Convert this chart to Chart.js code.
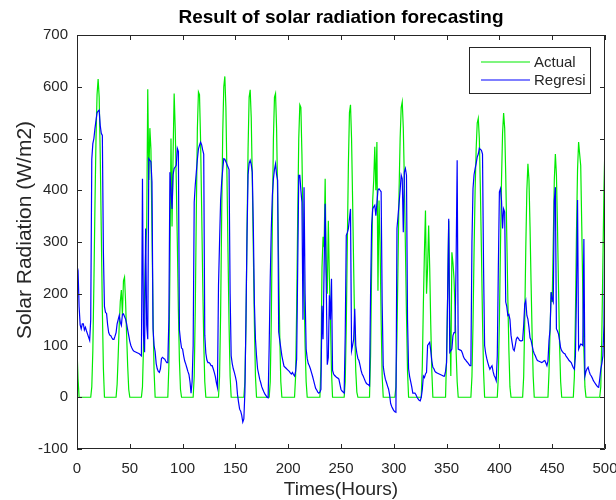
<!DOCTYPE html>
<html><head><meta charset="utf-8">
<script src="https://cdn.jsdelivr.net/npm/chart.js@4"></script>
<style>html,body{margin:0;padding:0;background:#fff;}#wrap{width:616px;height:500px;}</style>
</head><body><div id="wrap"><canvas id="c" width="616" height="500"></canvas></div>
<script>
const chartTitle = 'Result of solar radiation forecasting';
const xAxisTitle = 'Times(Hours)';
const yAxisTitle = 'Solar Radiation (W/m2)';
const seriesNames = ['Actual', 'Regresi'];
const xTickValues = [0, 50, 100, 150, 200, 250, 300, 350, 400, 450, 500];
const yTickValues = [-100, 0, 100, 200, 300, 400, 500, 600, 700];

// hourly values, hour = index (0..500)
const actual = [
93,35,0,0,0,0,0,0,0,0,0,0,0,0,20,90,220,370,500,585,615,580,470,320,
170,55,0,0,0,0,0,0,0,0,0,0,0,0,25,80,140,185,207,160,225,232,185,120,
60,15,0,0,0,0,0,0,0,0,0,0,0,0,20,100,200,280,330,595,420,520,480,320,
160,50,0,0,0,0,0,0,0,0,0,0,0,0,0,60,250,500,330,470,587,520,420,300,
170,70,15,0,0,0,0,0,0,0,0,0,0,0,0,40,170,360,520,590,585,500,370,230,
110,30,0,0,0,0,0,0,0,0,0,0,0,0,0,40,160,350,510,600,620,560,430,280,
140,40,0,0,0,0,0,0,0,0,0,0,0,0,0,30,140,320,480,580,594,540,420,280,
140,40,0,0,0,0,0,0,0,0,0,0,0,0,0,30,150,340,500,580,587,520,390,250,
120,30,0,0,0,0,0,0,0,0,0,0,0,0,0,40,170,350,500,565,560,470,340,210,
100,30,0,0,0,0,0,0,0,0,0,0,0,0,0,60,250,310,290,422,250,200,341,230,
150,50,0,0,0,0,0,0,0,0,0,0,0,0,30,140,300,450,550,565,500,380,250,130,
50,10,0,0,0,0,0,0,0,0,0,0,0,0,80,250,380,420,484,400,493,206,380,300,
150,40,0,0,0,0,0,0,0,0,0,0,0,0,20,120,260,400,500,560,571,520,420,290,
160,50,0,0,0,0,0,0,0,0,0,0,0,0,0,60,180,280,361,200,250,332,250,140,
50,0,0,0,0,0,0,0,0,0,0,0,0,0,80,200,341,150,41,280,260,230,170,90,
30,0,0,0,0,0,0,0,0,0,0,0,0,0,40,140,280,400,480,530,539,500,400,280,
150,50,0,0,0,0,0,0,0,0,0,0,0,0,0,40,150,290,420,510,549,520,430,310,
190,90,20,0,0,0,0,0,0,0,0,0,0,0,0,40,150,290,400,451,420,330,220,120,
40,0,0,0,0,0,0,0,0,0,0,0,0,0,0,50,130,203,184,300,420,470,430,330,
210,100,30,0,0,0,0,0,0,0,0,0,0,0,0,40,160,320,440,493,470,448,330,200,
90,20,0,0,0,0,0,0,0,0,0,0,0,0,0,0,20,120,260,400,493
];
const regresi = [
254,245,175,140,132,142,142,130,135,128,122,116,110,150,460,490,500,519,535,550,553,555,525,510,
506,280,175,164,162,140,125,120,119,115,112,112,118,125,142,150,158,145,139,160,161,156,151,142,
130,119,108,100,95,91,89,88,87,86,85,84,82,80,422,120,87,326,140,112,461,458,455,416,
132,100,88,65,55,50,48,55,75,77,75,74,70,67,67,150,435,400,364,430,442,445,448,481,
475,130,110,95,93,80,70,64,57,50,44,30,8,30,100,377,410,435,460,480,487,493,488,478,
470,120,85,72,67,67,65,61,61,55,48,40,28,19,216,300,380,416,440,461,460,455,450,445,
440,200,80,65,55,48,40,30,5,-10,-23,-27,-35,-48,-42,10,150,313,430,452,458,450,435,326,
180,112,80,55,45,35,28,20,15,10,6,3,0,-1,100,230,326,390,422,440,451,430,419,126,
110,95,80,70,60,58,56,54,52,50,47,45,48,44,41,50,74,250,429,429,400,377,150,406,
200,93,75,65,61,55,48,41,33,25,17,14,10,8,10,15,177,112,250,374,223,63,77,197,
150,229,52,45,42,40,38,37,35,25,15,12,10,8,120,313,318,326,345,364,90,100,112,171,
100,85,75,71,62,52,45,41,36,31,27,25,24,22,200,332,364,368,371,351,375,400,403,400,
397,180,60,45,35,29,22,16,5,-12,-18,-22,-26,-28,-29,326,350,375,400,429,422,319,435,442,
429,150,55,40,30,20,8,8,8,5,0,-3,-6,-7,0,15,41,38,45,48,100,103,106,90,
70,58,55,50,48,47,46,45,44,43,42,41,41,50,67,200,345,87,90,93,119,125,125,261,
458,93,92,91,90,85,78,74,72,69,67,64,61,61,300,403,430,442,452,464,470,481,479,477,
470,250,100,85,75,67,60,54,58,61,50,42,38,32,80,250,397,403,380,326,364,358,184,175,
158,160,150,120,106,93,90,100,112,116,114,110,109,109,110,139,180,187,158,151,135,115,110,100,
90,84,80,75,71,70,69,68,67,68,70,71,66,61,70,110,132,203,190,184,380,406,132,128,
122,110,95,90,87,85,84,80,77,74,71,69,67,62,57,54,80,200,381,93,98,103,102,100,
306,41,50,55,58,50,44,41,37,32,29,26,23,20,19,35,54,65,80,140,371
];

const FONT = "'Liberation Sans', Arial, Helvetica, sans-serif";
const AXC = '#262626';
const GREEN = 'rgb(0,235,0)';
const BLUE = 'rgb(0,0,255)';

const toXY = arr => arr.map((v, i) => ({x: i, y: v}));

const matlabAxes = {
  id: 'matlabAxes',
  afterDatasetsDraw(chart) {
    const ctx = chart.ctx;
    const a = chart.chartArea;
    const xs = chart.scales.x, ys = chart.scales.y;
    ctx.save();
    ctx.strokeStyle = AXC;
    ctx.lineWidth = 1;
    ctx.beginPath();
    ctx.rect(Math.round(a.left) + 0.5, Math.round(a.top) + 0.5, Math.round(a.right - a.left) - 1, Math.round(a.bottom - a.top) - 1);
    ctx.stroke();
    const L = 5;
    ctx.beginPath();
    xTickValues.forEach(v => {
      const px = Math.round(xs.getPixelForValue(v)) + 0.5;
      ctx.moveTo(px, a.bottom); ctx.lineTo(px, a.bottom - L);
      ctx.moveTo(px, a.top); ctx.lineTo(px, a.top + L);
    });
    yTickValues.forEach(v => {
      const py = Math.round(ys.getPixelForValue(v)) + 0.5;
      ctx.moveTo(a.left, py); ctx.lineTo(a.left + L, py);
      ctx.moveTo(a.right, py); ctx.lineTo(a.right - L, py);
    });
    ctx.stroke();

    // legend
    const lx = 469.5, ly = 47.5, lw = 121, lh = 46;
    ctx.fillStyle = '#fff';
    ctx.fillRect(lx, ly, lw, lh);
    ctx.strokeRect(lx, ly, lw, lh);
    const rows = [62, 80];
    chart.data.datasets.forEach((ds, i) => {
      ctx.strokeStyle = ds.borderColor;
      ctx.lineWidth = 1.2;
      ctx.beginPath();
      ctx.moveTo(481, rows[i]); ctx.lineTo(530, rows[i]);
      ctx.stroke();
      ctx.fillStyle = AXC;
      ctx.font = '15px ' + FONT;
      ctx.textBaseline = 'middle';
      ctx.textAlign = 'left';
      ctx.fillText(ds.label, 534, rows[i] + 0.5);
    });

    // y axis title
    ctx.save();
    ctx.translate(25, 230);
    ctx.rotate(-Math.PI / 2);
    ctx.fillStyle = AXC;
    ctx.font = '21px ' + FONT;
    ctx.textAlign = 'center';
    ctx.textBaseline = 'middle';
    ctx.fillText(yAxisTitle, 0, 0);
    ctx.restore();

    // title
    ctx.fillStyle = '#000';
    ctx.font = 'bold 19px ' + FONT;
    ctx.textAlign = 'center';
    ctx.textBaseline = 'middle';
    ctx.fillText(chartTitle, (a.left + a.right) / 2, 18);
    ctx.restore();
  }
};

new Chart(document.getElementById('c'), {
  type: 'line',
  data: {
    datasets: [
      {label: seriesNames[0], data: toXY(actual), borderColor: GREEN, borderWidth: 1.2, pointRadius: 0, tension: 0, order: 2},
      {label: seriesNames[1], data: toXY(regresi), borderColor: BLUE, borderWidth: 1.2, pointRadius: 0, tension: 0, order: 1}
    ]
  },
  options: {
    responsive: false,
    animation: false,
    devicePixelRatio: 1,
    layout: {padding: {top: 35, right: 11, bottom: 0, left: 0}},
    plugins: {legend: {display: false}, tooltip: {enabled: false}, title: {display: false}},
    scales: {
      x: {
        type: 'linear', min: 0, max: 500,
        afterBuildTicks: s => { s.ticks = xTickValues.map(v => ({value: v})); },
        afterFit: s => { s.height = 51; s.paddingLeft = 0; s.paddingRight = 0; },
        grid: {display: false, drawTicks: false},
        border: {display: false},
        ticks: {font: {family: FONT, size: 15}, color: AXC, padding: 11, maxRotation: 0, autoSkip: false},
        title: {display: true, text: xAxisTitle, font: {family: FONT, size: 19, lineHeight: 1}, color: AXC, padding: {top: 0, bottom: 1}}
      },
      y: {
        type: 'linear', min: -100, max: 700,
        afterBuildTicks: s => { s.ticks = yTickValues.map(v => ({value: v})); },
        afterFit: s => { s.width = 77; s.paddingTop = 0; s.paddingBottom = 0; },
        grid: {display: false, drawTicks: false},
        border: {display: false},
        ticks: {font: {family: FONT, size: 15}, color: AXC, padding: 9, autoSkip: false},
        title: {display: false}
      }
    }
  },
  plugins: [matlabAxes]
});
</script>
</body></html>
